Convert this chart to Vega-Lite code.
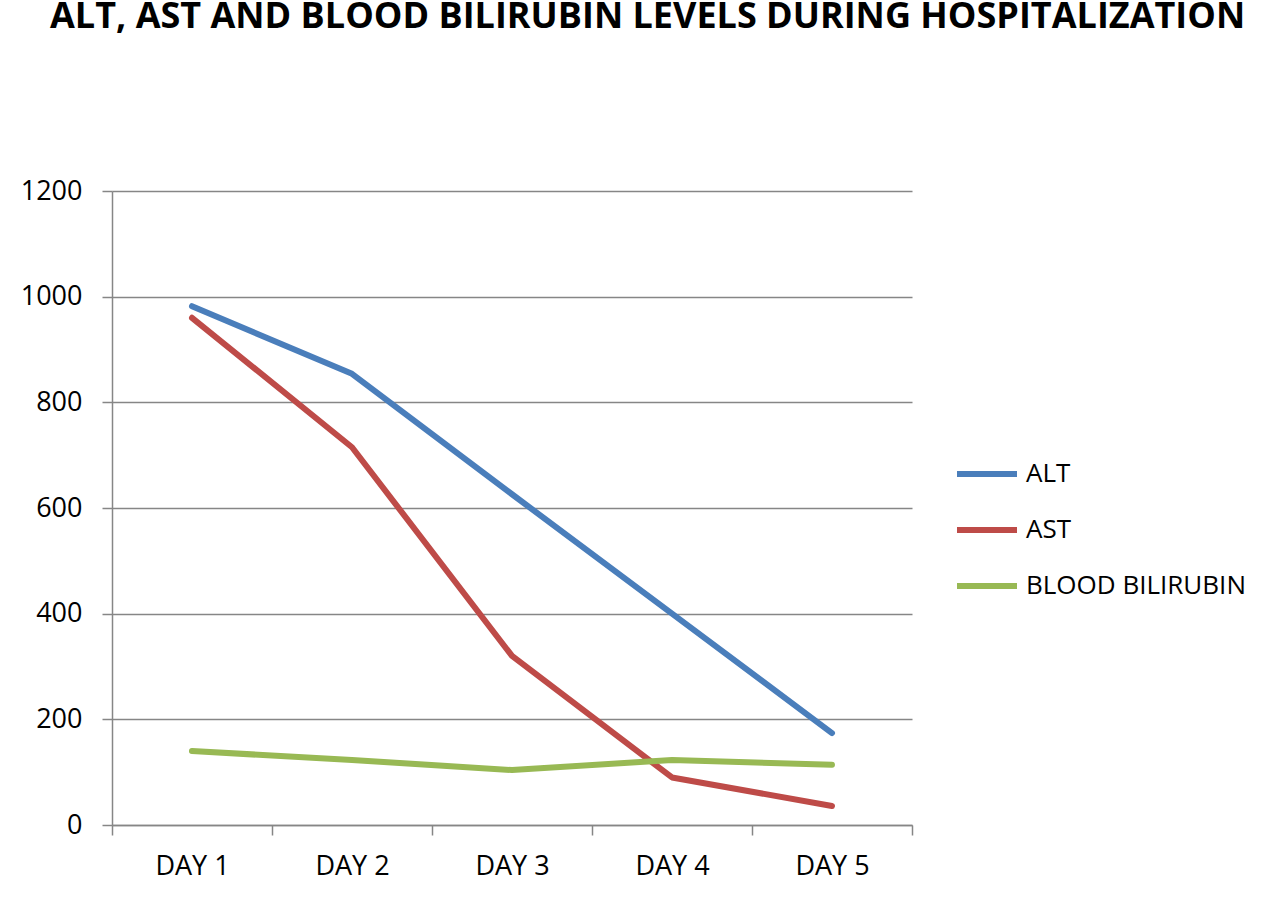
{
  "$schema": "https://vega.github.io/schema/vega-lite/v6.json",
  "autosize": {"type": "none"},
  "width": 800,
  "height": 634,
  "padding": {"left": 112, "top": 191, "right": 368, "bottom": 79},
  "background": "white",
  "title": {
    "text": "ALT, AST AND BLOOD BILIRUBIN LEVELS DURING HOSPITALIZATION",
    "font": "Open Sans",
    "fontWeight": "bold",
    "fontSize": 36,
    "color": "#000000",
    "anchor": "start",
    "frame": "group",
    "dx": -62,
    "limit": 2000,
    "offset": 141
  },
  "data": {
    "values": [
      {"day": "DAY 1", "series": "ALT", "value": 982},
      {"day": "DAY 2", "series": "ALT", "value": 854},
      {"day": "DAY 3", "series": "ALT", "value": 626},
      {"day": "DAY 4", "series": "ALT", "value": 400},
      {"day": "DAY 5", "series": "ALT", "value": 174},
      {"day": "DAY 1", "series": "AST", "value": 960},
      {"day": "DAY 2", "series": "AST", "value": 715},
      {"day": "DAY 3", "series": "AST", "value": 320},
      {"day": "DAY 4", "series": "AST", "value": 90},
      {"day": "DAY 5", "series": "AST", "value": 36},
      {"day": "DAY 1", "series": "BLOOD BILIRUBIN", "value": 140},
      {"day": "DAY 2", "series": "BLOOD BILIRUBIN", "value": 123},
      {"day": "DAY 3", "series": "BLOOD BILIRUBIN", "value": 104},
      {"day": "DAY 4", "series": "BLOOD BILIRUBIN", "value": 123},
      {"day": "DAY 5", "series": "BLOOD BILIRUBIN", "value": 114}
    ]
  },
  "mark": {"type": "line", "strokeWidth": 6, "strokeCap": "round", "strokeJoin": "round"},
  "encoding": {
    "x": {
      "field": "day",
      "type": "ordinal",
      "bandPosition": 0.5,
      "scale": {"type": "band", "paddingInner": 0, "paddingOuter": 0},
      "axis": {
        "title": null,
        "labelAngle": 0,
        "tickBand": "extent",
        "grid": false,
        "domainColor": "#868686",
        "domainWidth": 1.5,
        "tickColor": "#868686",
        "tickWidth": 1.5,
        "tickSize": 10,
        "labelFont": "Open Sans",
        "labelFontSize": 27,
        "labelColor": "#000000",
        "labelBaseline": "alphabetic",
        "labelPadding": 39
      }
    },
    "y": {
      "field": "value",
      "type": "quantitative",
      "scale": {"domain": [0, 1200], "nice": false, "zero": true},
      "axis": {
        "title": null,
        "values": [0, 200, 400, 600, 800, 1000, 1200],
        "format": "d",
        "grid": true,
        "gridColor": "#868686",
        "gridWidth": 1.5,
        "domainColor": "#868686",
        "domainWidth": 1.5,
        "tickColor": "#868686",
        "tickWidth": 1.5,
        "tickSize": 10,
        "labelFont": "Open Sans",
        "labelFontSize": 27,
        "labelColor": "#000000",
        "labelPadding": 20
      }
    },
    "color": {
      "field": "series",
      "type": "nominal",
      "scale": {
        "domain": ["ALT", "AST", "BLOOD BILIRUBIN"],
        "range": ["#4A7EBB", "#BE4B48", "#98B954"]
      },
      "legend": {
        "title": null,
        "orient": "none",
        "legendX": 842,
        "legendY": 250,
        "symbolType": "stroke",
        "symbolSize": 3600,
        "symbolStrokeWidth": 6,
        "labelFont": "Open Sans",
        "labelFontSize": 26,
        "labelColor": "#000000",
        "labelOffset": 6,
        "labelLimit": 400,
        "rowPadding": 10
      }
    }
  },
  "config": {"view": {"stroke": null}}
}
